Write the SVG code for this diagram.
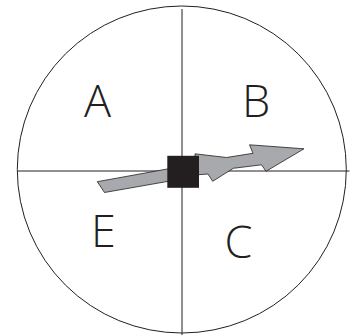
<svg xmlns="http://www.w3.org/2000/svg" width="353" height="335" viewBox="0 0 353 335">
<style>
.ln{stroke:#231f20;stroke-width:1;fill:none}
.arr{fill:#a7a9ac;stroke:#231f20;stroke-width:0.8;stroke-linejoin:miter}
.lbl{font-family:"Open Sans","Liberation Sans",sans-serif;font-size:45px;font-weight:300;fill:#231f20;text-anchor:middle}
</style>
<rect width="353" height="335" fill="#fff"/>
<g id="dial">
<ellipse class="ln" cx="181.8" cy="169.5" rx="164.5" ry="163.5"/>
</g>
<g id="connectors">
<line class="ln" x1="182" y1="9" x2="182" y2="335"/>
<line class="ln" x1="18" y1="171" x2="349.5" y2="171"/>
</g>
<g id="labels">
<text class="lbl" x="97.5" y="117">A</text>
<text class="lbl" x="256" y="117">B</text>
<text class="lbl" x="103.5" y="247">E</text>
<text class="lbl" x="238.5" y="258">C</text>
</g>
<g id="arrow">
<polygon class="arr" points="97.3,181.7 170,168.5 170,181 104.5,192.5"/>
<polygon class="arr" points="195,153.8 226.5,157.5 253,153.3 249.5,144.8 304,148.8 266,171.3 261.5,164.8 233.3,168.3 212.7,181.3 208,174 195,175"/>
</g>
<g id="hub">
<rect x="167.3" y="155.8" width="31.7" height="32" fill="#231f20"/>
</g>
</svg>
